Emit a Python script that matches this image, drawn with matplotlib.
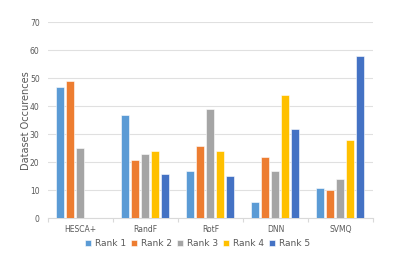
import matplotlib
matplotlib.use("Agg")
import matplotlib.pyplot as plt
import numpy as np

# data
categories = ["HESCA+", "RandF", "RotF", "DNN", "SVMQ"]
ranks = ["Rank 1", "Rank 2", "Rank 3", "Rank 4", "Rank 5"]
rank1 = [47, 37, 17, 6, 11]
rank2 = [49, 21, 26, 22, 10]
rank3 = [25, 23, 39, 17, 14]
rank4 = [0, 24, 24, 44, 28]
rank5 = [0, 16, 15, 32, 58]
colors = ["#5B9BD5", "#ED7D31", "#A5A5A5", "#FFC000", "#4472C4"]

series = [rank1, rank2, rank3, rank4, rank5]

fig = plt.figure(figsize=(3.93, 2.70), dpi=100)
ax = fig.add_axes([0.122, 0.191, 0.827, 0.726])

x = np.arange(len(categories))
step = 0.154
width = 0.123
for i, (vals, col, lab) in enumerate(zip(series, colors, ranks)):
    ax.bar(x + (i - 2) * step, vals, width, color=col, label=lab,
           edgecolor="white", linewidth=0.4, zorder=3)

ax.set_xlim(-0.5, len(categories) - 0.5)
ax.set_ylim(0, 70)
ax.set_yticks(range(0, 71, 10))
ax.yaxis.grid(True, color="#E0E0E0", linewidth=0.8, zorder=0)
ax.tick_params(axis="y", length=0, labelsize=5.5, labelcolor="#595959", pad=6)

ax.set_xticks(x)
ax.set_xticklabels(categories)
ax.set_xticks(np.arange(-0.5, len(categories), 1), minor=True)
ax.tick_params(axis="x", which="major", length=0, labelsize=5.5,
               labelcolor="#595959", pad=5)
ax.tick_params(axis="x", which="minor", length=3, color="#D9D9D9", width=0.8)

for s in ["top", "right", "left"]:
    ax.spines[s].set_visible(False)
ax.spines["bottom"].set_color("#D9D9D9")
ax.spines["bottom"].set_linewidth(0.8)

ax.set_ylabel("Dataset Occurences", fontsize=7, color="#595959", labelpad=-1)

ax.legend(loc="center", bbox_to_anchor=(0.46, -0.13), ncol=5,
          frameon=False, fontsize=6.5, handlelength=0.7, handleheight=0.7,
          handletextpad=0.4, columnspacing=0.55, labelcolor="#595959")

fig.savefig("out.png", dpi=100)
